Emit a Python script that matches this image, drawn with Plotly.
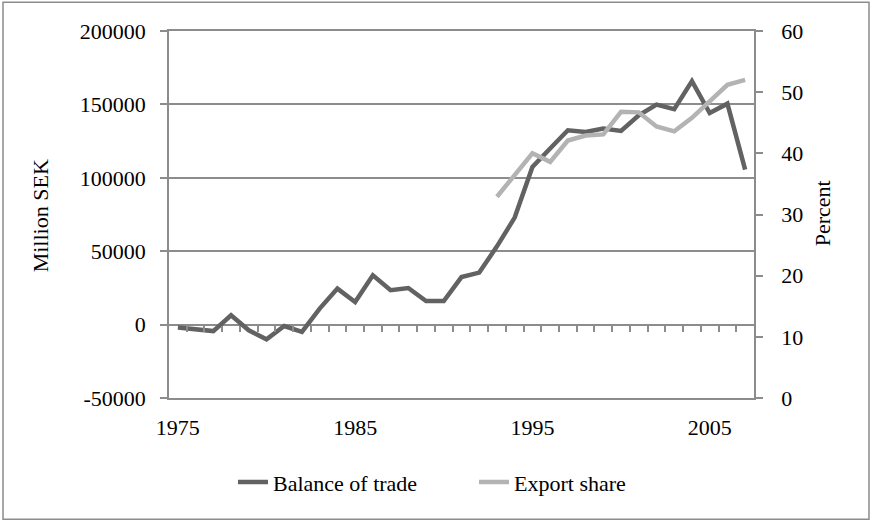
import plotly.graph_objects as go

years = list(range(1975, 2008))
balance_of_trade = [-2000, -3000, -4400, 6300, -3900, -10000, -1000, -5000, 10900, 24500,
                    15400, 33600, 23400, 24900, 16100, 16100, 32400, 35400, 53300, 72900,
                    107400, 120000, 132400, 131200, 133500, 131900, 142600, 149900, 146700, 165900,
                    144100, 150500, 105600]
export_years = list(range(1993, 2008))
export_share = [32.9, 36.4, 40.0, 38.6, 42.1, 42.9, 43.1, 46.8, 46.7, 44.4, 43.6, 45.8, 48.4, 51.2, 52.0]

left_ticks = [-50000, 0, 50000, 100000, 150000, 200000]
right_ticks = [0, 10, 20, 30, 40, 50, 60]
x_labels = [1975, 1985, 1995, 2005]

FONT = "Liberation Serif"
FS = 22
GRID = "#8c8c8c"
DARK = "#626262"
LIGHT = "#b3b3b3"

L, R, T, B = 169, 118, 31, 125
W, H = 872, 523
pw = W - L - R
ph = H - T - B

fig = go.Figure()
fig.add_trace(go.Scatter(x=years, y=balance_of_trade, mode="lines", name="Balance of trade",
                         line=dict(color=DARK, width=4.5), yaxis="y"))
fig.add_trace(go.Scatter(x=export_years, y=export_share, mode="lines", name="Export share",
                         line=dict(color=LIGHT, width=4.5), yaxis="y2"))
# helper trace to make sure the zero-line tick axis is drawn
fig.add_trace(go.Scatter(x=[years[0]], y=[None], xaxis="x2", yaxis="y", showlegend=False,
                         hoverinfo="skip", mode="lines"))

xr = [years[0] - 0.5, years[-1] + 0.5]
boundaries = [y + 0.5 for y in years[:-1]]
zero_pos = (0 - left_ticks[0]) / (left_ticks[-1] - left_ticks[0])

fig.update_layout(
    width=W, height=H,
    margin=dict(l=L, r=R, t=T, b=B),
    paper_bgcolor="white", plot_bgcolor="white",
    font=dict(family=FONT, size=FS, color="black"),
    showlegend=True,
    legend=dict(orientation="h", x=(474 - L) / pw, xanchor="center", y=(397.7 - 482) / ph,
                yanchor="middle", font=dict(family=FONT, size=FS, color="black"),
                entrywidth=196, entrywidthmode="pixels", tracegroupgap=0),
    xaxis=dict(range=xr, tickmode="array", tickvals=x_labels, ticks="", showgrid=False,
               showline=True, linecolor=GRID, linewidth=1.5, mirror=True, zeroline=False,
               ticklabelstandoff=9, tickfont=dict(family=FONT, size=FS)),
    xaxis2=dict(range=xr, overlaying="x", anchor="free", position=zero_pos, tickmode="array",
                tickvals=boundaries, ticks="outside", ticklen=6, tickwidth=1.5, tickcolor=GRID,
                showticklabels=False, showgrid=False, showline=False, zeroline=False),
    yaxis=dict(range=[left_ticks[0], left_ticks[-1]], tickmode="array", tickvals=left_ticks,
               ticktext=[str(v) for v in left_ticks],
               ticks="outside", ticklen=7, tickwidth=1.5, tickcolor=GRID,
               showgrid=True, gridcolor=GRID, gridwidth=1.5, zeroline=False,
               showline=True, linecolor=GRID, linewidth=1.5, ticklabelstandoff=10,
               tickfont=dict(family=FONT, size=FS)),
    yaxis2=dict(range=[right_ticks[0], right_ticks[-1]], tickmode="array", tickvals=right_ticks,
                ticktext=[str(v) for v in right_ticks],
                overlaying="y", side="right", anchor="x",
                ticks="outside", ticklen=7, tickwidth=1.5, tickcolor=GRID,
                showgrid=False, zeroline=False, showline=True, linecolor=GRID, linewidth=1.5,
                ticklabelstandoff=14, tickfont=dict(family=FONT, size=FS)),
    annotations=[
        dict(text="Million SEK", textangle=-90, xref="paper", yref="paper",
             x=(40 - L) / pw, y=(397.7 - 216) / ph, showarrow=False,
             xanchor="center", yanchor="middle",
             font=dict(family=FONT, size=FS, color="black")),
        dict(text="Percent", textangle=-90, xref="paper", yref="paper",
             x=(822 - L) / pw, y=(397.7 - 213) / ph, showarrow=False,
             xanchor="center", yanchor="middle",
             font=dict(family=FONT, size=FS, color="black")),
    ],
    shapes=[dict(type="rect", xref="paper", yref="paper",
                 x0=(3 - L) / pw, x1=(869 - L) / pw, y0=(397.7 - 519) / ph, y1=(397.7 - 2) / ph,
                 line=dict(color=GRID, width=1.5), fillcolor="rgba(0,0,0,0)", layer="below")],
)

fig.write_html("out.html", config={"displayModeBar": False},
               post_script="document.body.style.margin='0';document.body.style.overflow='hidden';")
